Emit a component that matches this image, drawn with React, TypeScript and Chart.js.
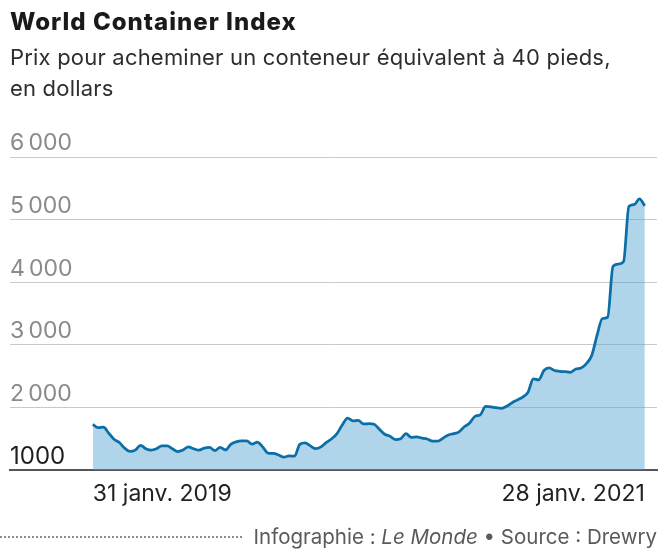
import React, { useEffect, useRef } from 'react';
import { Chart, registerables } from 'chart.js';

Chart.register(...registerables);

// Weekly World Container Index, 31 Jan 2019 -> 28 Jan 2021 (USD per 40ft container)
const weeklyIndex = [
  1730, 1675, 1685, 1590, 1490, 1440, 1350, 1296, 1317, 1395,
  1340, 1317, 1340, 1385, 1385, 1340, 1295, 1320, 1370, 1340,
  1317, 1350, 1360, 1310, 1360, 1320, 1410, 1450, 1466, 1466,
  1413, 1445, 1370, 1270, 1265, 1240, 1205, 1225, 1222, 1410,
  1434, 1385, 1340, 1370, 1440, 1500, 1580, 1720, 1830, 1785,
  1794, 1735, 1741, 1730, 1650, 1571, 1540, 1487, 1500, 1582,
  1520, 1529, 1510, 1495, 1460, 1460, 1510, 1560, 1580, 1610,
  1690, 1750, 1857, 1880, 2016, 2010, 1995, 1985, 2020, 2075,
  2120, 2165, 2243, 2455, 2439, 2590, 2630, 2590, 2577, 2570,
  2561, 2614, 2630, 2700, 2830, 3150, 3420, 3440, 4250, 4290,
  4330, 5210, 5240, 5330, 5220,
];

const xTickLabels = ['31 janv. 2019', '28 janv. 2021'];
const yTickLabels = ['1000', '2\u202f000', '3\u202f000', '4\u202f000', '5\u202f000', '6\u202f000'];

const titleText = 'World Container Index';
const subtitleLines = ['Prix pour acheminer un conteneur équivalent à 40 pieds,', 'en dollars'];

export default function App() {
  const canvasRef = useRef<HTMLCanvasElement>(null);

  useEffect(() => {
    document.body.style.margin = '0';
    const canvas = canvasRef.current;
    if (!canvas) return;
    const last = weeklyIndex.length - 1;
    const chart = new Chart(canvas, {
      type: 'line',
      data: {
        datasets: [
          {
            data: weeklyIndex.map((v, i) => ({ x: i, y: v })),
            borderColor: '#0b6ea6',
            borderWidth: 2.75,
            backgroundColor: 'rgba(79,159,208,0.45)',
            fill: 'start',
            pointRadius: 0,
            cubicInterpolationMode: 'monotone',
          },
        ],
      },
      options: {
        animation: false,
        responsive: false,
        devicePixelRatio: 1,
        layout: { padding: { top: 157, left: 10, right: 7, bottom: 46 } },
        plugins: { legend: { display: false }, tooltip: { enabled: false } },
        scales: {
          x: {
            type: 'linear',
            min: -15.6,
            max: last + 2.3,
            afterBuildTicks: (s: any) => {
              s.ticks = [{ value: 0 }, { value: last }];
            },
            afterFit: (s: any) => {
              s.height = 40;
            },
            grid: { display: false, drawTicks: false },
            border: { display: true, color: '#555555', width: 2 },
            ticks: {
              align: 'inner',
              padding: 10,
              maxRotation: 0,
              autoSkip: false,
              color: '#222222',
              font: { family: 'Inter', size: 23 },
              callback: (_v: any, i: number) => xTickLabels[i],
            },
          },
          y: {
            min: 1000,
            max: 6000,
            grid: {
              color: (ctx: any) => (ctx.tick && ctx.tick.value === 1000 ? 'rgba(0,0,0,0)' : '#c9c9c9'),
              lineWidth: 1,
              drawTicks: false,
            },
            border: { display: false },
            ticks: {
              stepSize: 1000,
              mirror: true,
              padding: 0,
              labelOffset: -13.5,
              color: (ctx: any) => (ctx.tick && ctx.tick.value === 1000 ? '#1e1e1e' : '#8a8a8a'),
              font: (ctx: any) => ({ family: 'Inter', size: ctx.tick && ctx.tick.value === 1000 ? 24 : 23 }),
              callback: (_v: any, i: number) => yTickLabels[i],
            },
          },
        },
      },
    } as any);
    return () => chart.destroy();
  }, []);

  return (
    <div style={{ position: 'relative', width: 664, height: 556, background: '#fff', overflow: 'hidden', fontFamily: 'Inter' }}>
      <canvas ref={canvasRef} width={664} height={556} style={{ position: 'absolute', left: 0, top: 0 }} />
      <div
        style={{
          position: 'absolute', left: 10, top: 10, fontSize: 24, lineHeight: '24px', fontWeight: 800,
          letterSpacing: '1px', color: '#1a1a1a', whiteSpace: 'nowrap',
        }}
      >
        {titleText}
      </div>
      <div
        style={{
          position: 'absolute', left: 10, top: 42.2, fontSize: 22, lineHeight: '31px', fontWeight: 400,
          letterSpacing: '0.2px', color: '#2e2e2e', whiteSpace: 'nowrap',
        }}
      >
        {subtitleLines[0]}
        <br />
        {subtitleLines[1]}
      </div>
      <div
        style={{
          position: 'absolute', left: 0, top: 527, width: 657, height: 20, display: 'flex', alignItems: 'center',
        }}
      >
        <div style={{ flex: 1, height: 0, borderTop: '2px dotted #8c8c8c', marginRight: 12 }} />
        <div style={{ fontSize: 20.5, lineHeight: '20px', color: '#5a5a5a', whiteSpace: 'nowrap' }}>
          Infographie : <i>Le Monde</i> • Source : Drewry
        </div>
      </div>
    </div>
  );
}
